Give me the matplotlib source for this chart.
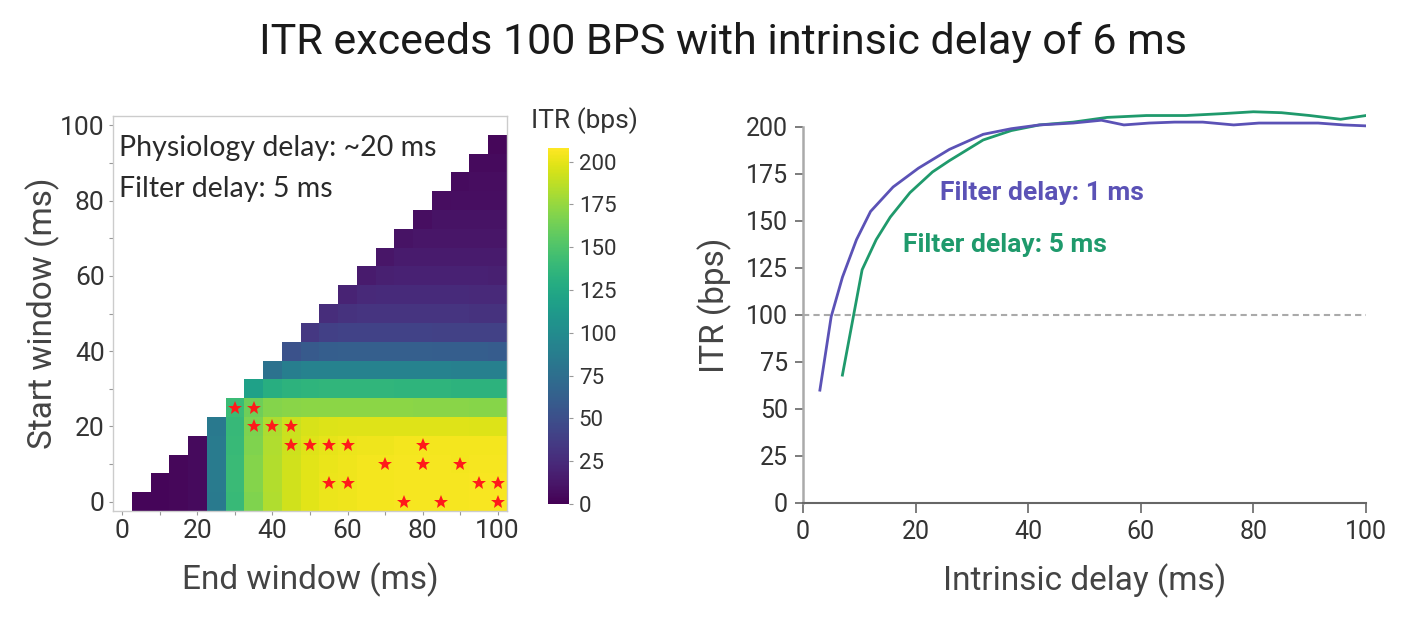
import numpy as np
import matplotlib
matplotlib.use("Agg")
import matplotlib.pyplot as plt

# ---- heatmap data: ITR (bps) by start window (rows) and end window (cols)
end_windows = [5, 10, 15, 20, 25, 30, 35, 40, 45, 50, 55, 60, 65, 70, 75, 80, 85, 90, 95, 100]
start_windows = [0, 5, 10, 15, 20, 25, 30, 35, 40, 45, 50, 55, 60, 65, 70, 75, 80, 85, 90, 95]

# each row holds values for end = start+5 ... 100
itr_rows = [
    [3, 3, 4, 5, 85, 140, 168, 183, 193, 199, 202, 203, 204, 204, 205, 205, 205, 205, 206, 206],
    [3, 4, 5, 86, 141, 169, 184, 193, 199, 202, 203, 204, 204, 205, 205, 205, 205, 206, 206],
    [4, 5, 86, 141, 169, 184, 193, 199, 201, 203, 204, 204, 205, 205, 205, 204, 205, 205],
    [5, 86, 140, 168, 183, 192, 198, 200, 202, 203, 203, 204, 204, 204, 204, 204, 204],
    [84, 139, 167, 182, 191, 195, 197, 198, 198, 198, 198, 198, 198, 198, 197, 197],
    [142, 162, 169, 171, 172, 172, 172, 172, 172, 172, 171, 171, 171, 170, 170],
    [118, 130, 134, 135, 136, 136, 136, 136, 135, 135, 135, 134, 134, 134],
    [78, 88, 91, 92, 92, 92, 92, 91, 91, 91, 90, 90, 90],
    [52, 58, 61, 62, 62, 62, 62, 62, 61, 61, 61, 60],
    [34, 39, 41, 41, 41, 41, 41, 40, 40, 40, 40],
    [26, 30, 31, 31, 31, 31, 31, 31, 30, 30],
    [20, 24, 25, 25, 25, 25, 25, 24, 24],
    [15, 18, 19, 19, 19, 19, 19, 18],
    [12, 15, 15, 15, 15, 15, 15],
    [10, 12, 12, 12, 12, 12],
    [8, 10, 10, 10, 10],
    [7, 8, 8, 8],
    [6, 7, 7],
    [5, 5],
    [4],
]

# red stars (end, start)
star_end = [30, 35, 35, 40, 45, 45, 50, 55, 60, 80, 70, 80, 90, 55, 60, 95, 100, 75, 85, 100]
star_start = [25, 25, 20, 20, 20, 15, 15, 15, 15, 15, 10, 10, 10, 5, 5, 5, 5, 0, 0, 0]

# ---- line chart data
delay_1ms_x = [3, 5, 7, 9.5, 12, 16, 20.5, 26, 32, 37, 42, 48, 53, 57, 61.5, 66, 71, 76.5, 81, 85, 91.5, 96, 100]
delay_1ms_y = [60, 99, 120, 140, 155, 168, 178, 188, 196, 199, 201, 202, 203.5, 201, 202, 202.5, 202.5, 201, 202, 202, 202, 201, 200.5]
delay_5ms_x = [7, 9, 10.5, 13, 15.5, 19, 23, 26, 32, 37, 42, 48, 54, 61, 68, 74.5, 80, 85, 90, 95.5, 100]
delay_5ms_y = [68, 100, 124, 140, 152, 165, 176, 182, 193, 198, 201, 202.5, 205, 206, 206, 207, 208, 207.5, 206, 204, 206]

blue = '#5b52b6'
green = '#1f9a6c'

fig = plt.figure(figsize=(14.1, 6.34), dpi=100)
fig.patch.set_facecolor('white')

fig.text(0.513, 0.933, "ITR exceeds 100 BPS with intrinsic delay of 6 ms",
         ha='center', va='center', fontsize=31, family='Roboto', color='#1a1a1a')

# ---- heatmap
grid = np.full((len(start_windows), len(end_windows)), np.nan)
for i, row in enumerate(itr_rows):
    grid[i, len(end_windows) - len(row):] = row
grid = np.ma.masked_invalid(grid)

x_edges = np.array(end_windows + [end_windows[-1] + 5]) - 2.5
y_edges = np.array(start_windows + [start_windows[-1] + 5]) - 2.5

ax1 = fig.add_axes([113 / 1410, 1 - 511 / 634, 394 / 1410, 395 / 634])
mesh = ax1.pcolormesh(x_edges, y_edges, grid, cmap='viridis', vmin=0, vmax=208)
ax1.plot(star_end, star_start, linestyle='none', marker='*', color='#ff1a1a',
         markersize=10, markeredgewidth=0)
ax1.set_xlim(-2.5, 102.5)
ax1.set_ylim(-2.5, 102.5)
ax1.set_xticks([0, 20, 40, 60, 80, 100])
ax1.set_yticks([0, 20, 40, 60, 80, 100])
ax1.set_xticks([10, 30, 50, 70, 90], minor=True)
ax1.set_yticks([10, 30, 50, 70, 90], minor=True)
for lab in ax1.get_xticklabels() + ax1.get_yticklabels():
    lab.set_family('Roboto')
ax1.tick_params(which='both', length=3, width=0.8, color='#999999',
                labelsize=19, labelcolor='#333333', pad=3)
for sp in ax1.spines.values():
    sp.set_color('#cccccc')
    sp.set_linewidth(1.0)
ax1.set_xlabel("End window (ms)", fontsize=24, family='Roboto', color='#444444', labelpad=14)
ax1.set_ylabel("Start window (ms)", fontsize=24, family='Roboto', color='#444444', labelpad=0)
ax1.text(-1, 94, "Physiology delay: ~20 ms", fontsize=20.5, family='Lato', color='#2a2a2a',
         va='center', ha='left')
ax1.text(-1, 83, "Filter delay: 5 ms", fontsize=20.5, family='Lato', color='#2a2a2a',
         va='center', ha='left')

# colorbar
cax = fig.add_axes([548 / 1410, 1 - 504 / 634, 21 / 1410, 356 / 634])
cb = fig.colorbar(mesh, cax=cax, ticks=[0, 25, 50, 75, 100, 125, 150, 175, 200])
cb.outline.set_visible(False)
cax.tick_params(length=3, color='#999999', labelsize=16, labelcolor='#333333', pad=4)
for lab in cax.get_yticklabels():
    lab.set_family('Roboto')
fig.text(584 / 1410, 1 - 121 / 634, "ITR (bps)", fontsize=19, family='Roboto',
         color='#333333', ha='center', va='center')

# ---- line chart
ax2 = fig.add_axes([803 / 1410, 1 - 503 / 634, 563 / 1410, 395 / 634])
ax2.axhline(100, color='#aaaaaa', linestyle=(0, (3, 2)), linewidth=1.5, zorder=1)
ax2.plot(delay_1ms_x, delay_1ms_y, color=blue, linewidth=2, zorder=3)
ax2.plot(delay_5ms_x, delay_5ms_y, color=green, linewidth=2, zorder=2)
ax2.set_xlim(0, 100)
ax2.set_ylim(0, 210)
ax2.set_xticks([0, 20, 40, 60, 80, 100])
ax2.set_yticks([0, 25, 50, 75, 100, 125, 150, 175, 200])
ax2.spines['top'].set_visible(False)
ax2.spines['right'].set_visible(False)
ax2.spines['left'].set_bounds(0, 200)
ax2.spines['left'].set_color('#aaaaaa')
ax2.spines['left'].set_linewidth(1.8)
ax2.spines['bottom'].set_color('#666666')
ax2.spines['bottom'].set_linewidth(1.5)
for lab in ax2.get_xticklabels() + ax2.get_yticklabels():
    lab.set_family('Roboto')
ax2.tick_params(axis='x', length=7, width=1.2, color='#666666', labelsize=18,
                labelcolor='#333333', pad=5)
ax2.tick_params(axis='y', length=6, width=1.2, color='#666666', labelsize=18,
                labelcolor='#333333', pad=5)
ax2.set_xlabel("Intrinsic delay (ms)", fontsize=24, family='Roboto', color='#444444', labelpad=14)
ax2.set_ylabel("ITR (bps)", fontsize=24, family='Roboto', color='#444444', labelpad=10)
ax2.text(24.3, 165, "Filter delay: 1 ms", color=blue, fontsize=19, family='Roboto',
         fontweight='bold', va='center', ha='left')
ax2.text(17.8, 137, "Filter delay: 5 ms", color=green, fontsize=19, family='Roboto',
         fontweight='bold', va='center', ha='left')

fig.savefig("out.png", dpi=100, facecolor='white')
